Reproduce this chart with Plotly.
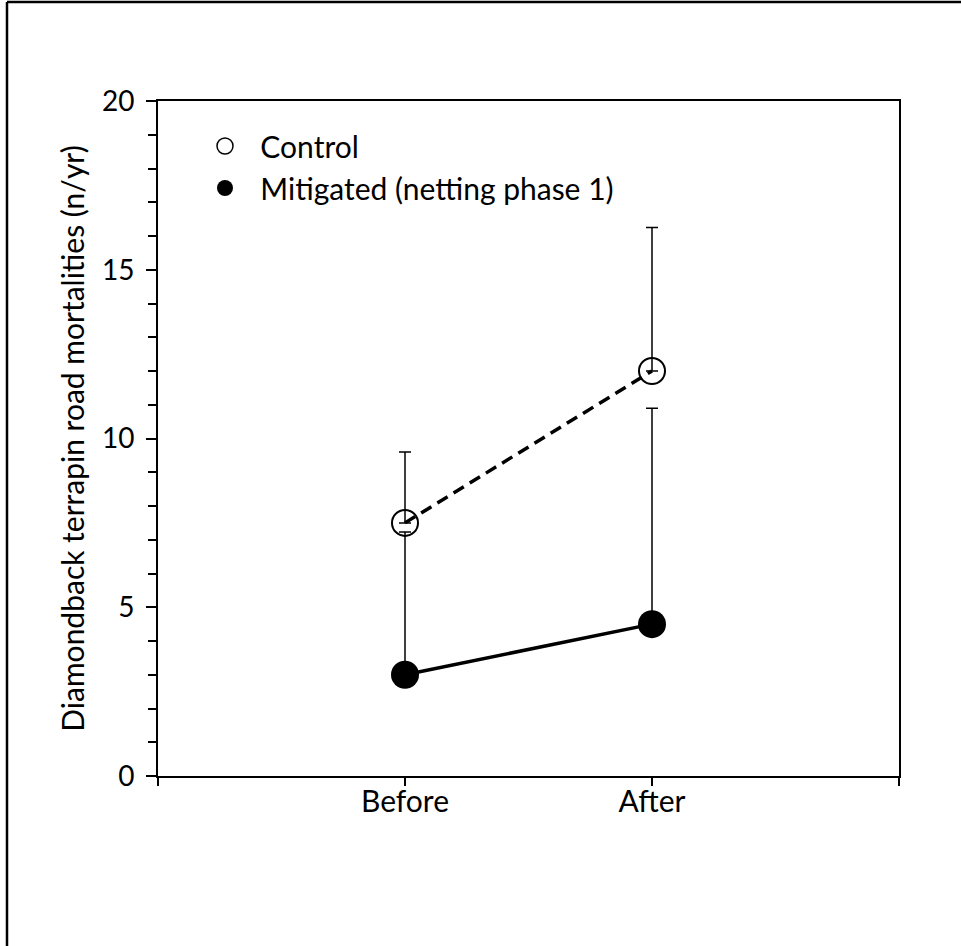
import plotly.graph_objects as go

# Data
periods = ["Before", "After"]
period_pos = [1, 2]
control_mean = [7.5, 12.0]
control_err_up = [2.1, 4.25]
mitigated_mean = [3.0, 4.5]
mitigated_err_up = [4.23, 6.4]
y_title = "Diamondback terrapin road mortalities (n/yr)"

FONT = "Lato, Carlito, Calibri, sans-serif"
FS = 30

fig = go.Figure()

fig.add_trace(go.Scatter(
    x=period_pos, y=control_mean, mode="lines+markers", showlegend=False,
    line=dict(color="black", width=3.5, dash="12px,7px"),
    marker=dict(symbol="circle-open", size=26, color="black", line=dict(width=2)),
    error_y=dict(type="data", symmetric=False, array=control_err_up,
                 arrayminus=[0, 0], color="black", thickness=1.5, width=6),
))
fig.add_trace(go.Scatter(
    x=period_pos, y=mitigated_mean, mode="lines+markers", showlegend=False,
    line=dict(color="black", width=3.5),
    marker=dict(symbol="circle", size=28, color="black"),
    error_y=dict(type="data", symmetric=False, array=mitigated_err_up,
                 arrayminus=[0, 0], color="black", thickness=1.5, width=6),
))

# legend-only entries
fig.add_trace(go.Scatter(x=[None], y=[None], mode="markers",
                         name="\u00a0\u00a0Control",
                         marker=dict(symbol="circle-open", size=17, color="black",
                                     line=dict(width=1.5))))
fig.add_trace(go.Scatter(x=[None], y=[None], mode="markers",
                         name="\u00a0\u00a0Mitigated (netting phase 1)",
                         marker=dict(symbol="circle", size=18, color="black")))

L, R, T, B = 158, 62, 101, 170
W, H = 961, 946
pw, ph = W - L - R, H - T - B

def px(x):
    return (x - L) / pw

def py(y):
    return (H - B - y) / ph

# outer frame (left and top edges)
fig.add_shape(type="line", xref="paper", yref="paper",
              x0=px(7), x1=px(7), y0=py(2), y1=py(950),
              line=dict(color="black", width=2.5))
fig.add_shape(type="line", xref="paper", yref="paper",
              x0=px(7), x1=px(965), y0=py(2), y1=py(2),
              line=dict(color="black", width=2.5))

fig.update_layout(
    width=W, height=H,
    margin=dict(l=L, r=R, t=T, b=B),
    paper_bgcolor="white", plot_bgcolor="white",
    font=dict(family=FONT, size=FS, color="black"),
    legend=dict(x=px(205), y=py(120), xanchor="left", yanchor="top",
                bgcolor="rgba(0,0,0,0)", font=dict(size=FS),
                itemsizing="trace", tracegroupgap=0),
    xaxis=dict(range=[0, 3], tickvals=[0, 1, 2, 3],
               ticktext=["", "Before", "After", ""],
               showgrid=False, zeroline=False, showline=True, mirror=True,
               linecolor="black", linewidth=2, ticks="outside", ticklen=8,
               tickwidth=1.5, tickcolor="black", ticklabelstandoff=-10),
    yaxis=dict(range=[0, 20], tickvals=[0, 5, 10, 15, 20],
               showgrid=False, zeroline=False, showline=True, mirror=True,
               linecolor="black", linewidth=2, ticks="outside", ticklen=10,
               tickwidth=1.5, tickcolor="black", ticklabelstandoff=6,
               tickfont=dict(size=28),
               minor=dict(dtick=1, ticks="outside", ticklen=8, tickwidth=1.5,
                          tickcolor="black", showgrid=False),
               title=dict(text=y_title, standoff=8, font=dict(size=FS))),
)

fig.write_html("out.html", config={"displayModeBar": False},
               post_script="document.body.style.margin='0';document.body.style.overflow='hidden';")
